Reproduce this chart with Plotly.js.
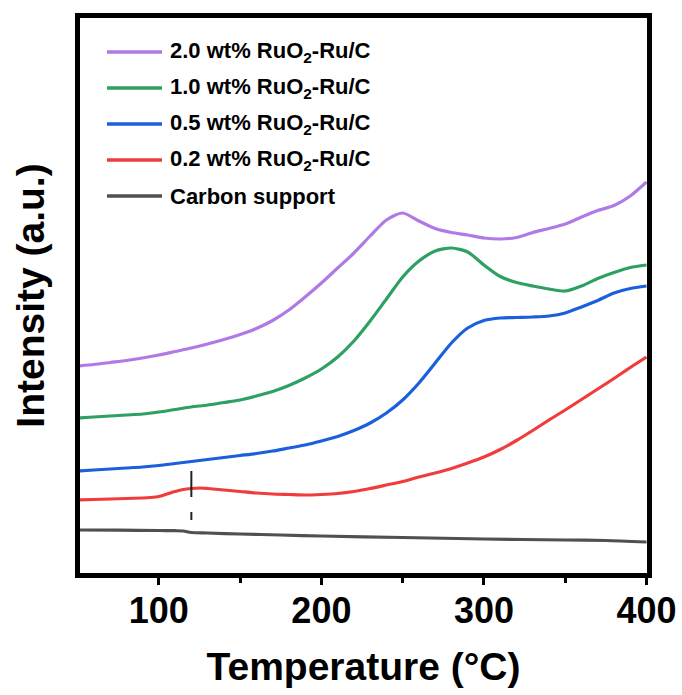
<!DOCTYPE html>
<html>
<head>
<meta charset="utf-8">
<script src="https://cdn.plot.ly/plotly-3.0.1.min.js"></script>
<style>html,body{margin:0;padding:0;background:#fff;}#chart{width:682px;height:695px;}</style>
</head>
<body>
<div id="chart"></div>
<script>
// ---- data ----
const tempGrid = [50,60,70,80,90,100,110,120,130,140,150,160,170,180,190,200,210,220,230,240,250,260,270,280,290,300,310,320,330,340,350,360,370,380,390,400];
const ru20 = [209,210.5,212.5,214.5,217,220,223.5,227,231,235.5,240.5,246.5,254.5,265,278,292,307,322,339,355,362,354,346.5,342.5,340,337,336,337.5,342.5,346.5,351,358,364.5,369.5,379,393];
const ru10 = [157,158,159,160,161,163,165.5,168,170,172.5,175,179,183.5,189.5,197,206,218,234,254,276,298,314,324,327,323,310,298.5,292.5,289,286,284,289,296.5,302.5,307.5,310];
const ru05 = [104,105,106,107,108,109.5,111.5,113.5,115.5,117.5,119.5,121.5,124,127,130,134,138.5,144.5,152,162,175,192,212,232,247,254.5,257,257.5,258,259,262,268,274.5,282,286.5,289];
const tempRed = [50,60,70,80,90,95,100,105,110,115,120,125,130,140,150,160,170,180,190,200,210,220,230,240,250,260,270,280,290,300,310,320,330,340,350,360,370,380,390,400];
const ru02 = [75,75.5,76,76.5,77,77.5,78.5,81,83.5,85.5,86.5,87,86.5,85,83.5,82,81,80.5,80,80.5,81.5,83.5,86.5,90,93.5,98,102,106.5,112,118,125.5,134.5,144.5,155,165,175.5,186,196.5,207.5,218];
const tempCarbon = [50,75,100,110,115,120,130,150,175,200,250,300,350,375,400];
const carbon = [45,44.8,44.5,44.3,44,42.5,42,41,40,39,37.5,36,35,34.5,33];
const markerTemp = [120,120];
const markerRange = [104,55];

const seriesNames = ['2.0 wt% RuO<sub>2</sub>-Ru/C','1.0 wt% RuO<sub>2</sub>-Ru/C','0.5 wt% RuO<sub>2</sub>-Ru/C','0.2 wt% RuO<sub>2</sub>-Ru/C','Carbon support'];
const seriesColors = ['#b07ae6','#2ea064','#1a60dc','#f03c3c','#505050'];
const xTickVals = [100,200,300,400];
const xTickText = ['100','200','300','400'];

const seriesX = [tempGrid,tempGrid,tempGrid,tempRed,tempCarbon];
const seriesY = [ru20,ru10,ru05,ru02,carbon];

const FONT = 'Liberation Sans, Arial, Helvetica, sans-serif';

const traces = seriesY.map((ys,i)=>({
  type:'scatter', mode:'lines', name:seriesNames[i],
  x:seriesX[i], y:ys, showlegend:false,
  line:{color:seriesColors[i], width:3.2, shape:'spline', smoothing:0.7}
}));
traces.push({type:'scatter', mode:'lines', x:markerTemp, y:markerRange, showlegend:false,
  line:{color:'#222', width:2, dash:'26px,15px,8px,15px'}});

// custom legend (long line samples as in the reference)
const shapes = [], annotations = [];
const legX0 = 0.0476, legX1 = 0.1446, legTextX = 0.1552, legY0 = 0.9387, legStep = 0.0649;
seriesNames.forEach((nm,i)=>{
  const yy = legY0 - i*legStep;
  shapes.push({type:'line', xref:'paper', yref:'paper', x0:legX0, x1:legX1, y0:yy, y1:yy,
    line:{color:seriesColors[i], width:3.5}});
  annotations.push({xref:'paper', yref:'paper', x:legTextX, y:yy, xanchor:'left', yanchor:'middle',
    text:nm, showarrow:false, font:{family:FONT, size:22, weight:'bold', color:'#000'}});
});

const layout = {
  width:682, height:695,
  margin:{l:80, r:35, t:18, b:122},
  paper_bgcolor:'#fff', plot_bgcolor:'#fff',
  showlegend:false,
  xaxis:{range:[51.5,400.3], showline:true, linewidth:5, linecolor:'#000', mirror:true,
    ticks:'outside', ticklen:7, tickwidth:3, tickcolor:'#000',
    tickmode:'array', tickvals:xTickVals, ticktext:xTickText, ticklabelstandoff:-5,
    minor:{tick0:50, dtick:50, ticks:'outside', ticklen:5, tickwidth:3, tickcolor:'#000', showgrid:false},
    showgrid:false, zeroline:false,
    tickfont:{family:FONT, size:36, weight:'bold', color:'#000'},
    title:{text:'Temperature (\u00B0C)', font:{family:FONT, size:39, weight:'bold', color:'#000'}, standoff:24}},
  yaxis:{range:[2,557], showline:true, linewidth:5, linecolor:'#000', mirror:true,
    ticks:'', showticklabels:false, showgrid:false, zeroline:false,
    title:{text:'Intensity (a.u.)', font:{family:FONT, size:39, weight:'bold', color:'#000'}, standoff:20}},
  shapes:shapes, annotations:annotations
};

Plotly.newPlot('chart', traces, layout, {staticPlot:true, displayModeBar:false});
</script>
</body>
</html>
